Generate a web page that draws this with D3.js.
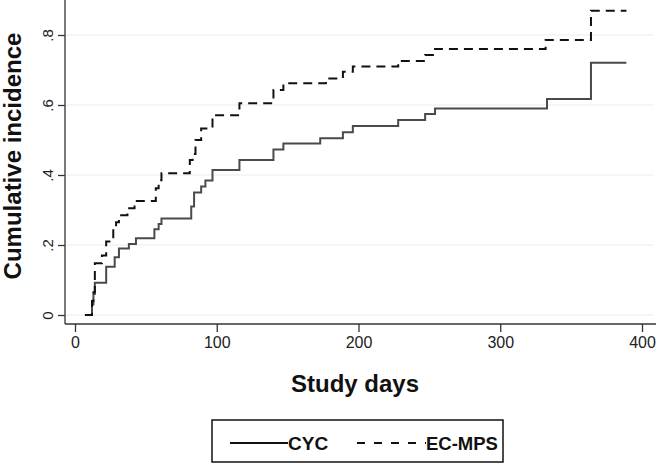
<!DOCTYPE html>
<html>
<head>
<meta charset="utf-8">
<script src="https://cdn.jsdelivr.net/npm/d3@7"></script>
<style>
  html, body { margin: 0; padding: 0; background: #fff; }
  svg { display: block; }
  text { font-family: "Liberation Sans", Arial, sans-serif; }
</style>
</head>
<body>
<svg id="chart" width="658" height="465"></svg>
<script>
// ---- data ----
const xTicks = [0, 100, 200, 300, 400];
const yTicks = [0, 0.2, 0.4, 0.6, 0.8];
const yTickLabels = ["0", ".2", ".4", ".6", ".8"];
const seriesNames = ["CYC", "EC-MPS"];

const cycDays = [7, 12, 13, 14, 22, 28, 31, 38, 43, 56, 59, 61, 82, 84, 89, 92, 97, 116, 140, 147, 173, 189, 196, 228, 247, 254, 333, 364, 389];
const cycVals = [0, 0.03, 0.06, 0.092, 0.138, 0.165, 0.19, 0.203, 0.219, 0.245, 0.26, 0.276, 0.31, 0.35, 0.367, 0.384, 0.414, 0.443, 0.473, 0.49, 0.505, 0.522, 0.54, 0.557, 0.574, 0.59, 0.617, 0.721, 0.721];

const ecDays = [7, 12, 13, 14, 19, 22, 27, 29, 31, 37, 42, 57, 59, 61, 81, 83, 85, 89, 97, 116, 140, 147, 177, 189, 196, 228, 247, 254, 332, 364, 389];
const ecVals = [0, 0.04, 0.065, 0.148, 0.17, 0.21, 0.245, 0.265, 0.285, 0.305, 0.326, 0.362, 0.385, 0.405, 0.443, 0.46, 0.50, 0.533, 0.571, 0.605, 0.643, 0.662, 0.676, 0.695, 0.71, 0.726, 0.743, 0.76, 0.786, 0.869, 0.869];

// ---- layout ----
const svg = d3.select("#chart");
const x = d3.scaleLinear().domain([0, 400]).range([75, 642]);
const y = d3.scaleLinear().domain([0, 0.8]).range([315, 35]);
const plotLeft = 65, plotRight = 656, plotTop = 0, plotBottom = 324;

// gridlines
svg.append("g").selectAll("line").data(yTicks).join("line")
  .attr("x1", plotLeft + 1).attr("x2", 653)
  .attr("y1", d => y(d)).attr("y2", d => y(d))
  .attr("stroke", "#ececec").attr("stroke-width", 1.2);

// axes lines
svg.append("line").attr("x1", plotLeft).attr("x2", plotLeft)
  .attr("y1", plotTop).attr("y2", plotBottom)
  .attr("stroke", "#333").attr("stroke-width", 1.3);
svg.append("line").attr("x1", plotLeft).attr("x2", plotRight)
  .attr("y1", plotBottom).attr("y2", plotBottom)
  .attr("stroke", "#333").attr("stroke-width", 1.3);

// x axis
const xAxis = d3.axisBottom(x).tickValues(xTicks).tickSize(8).tickPadding(5).tickFormat(d3.format("d"));
const gx = svg.append("g").attr("transform", `translate(0,${plotBottom})`).call(xAxis);
gx.select(".domain").remove();
gx.selectAll(".tick line").attr("stroke", "#333").attr("stroke-width", 1.3);
gx.selectAll(".tick text").attr("font-size", 16).attr("fill", "#222")
  .style("font-family", '"Liberation Sans", Arial, sans-serif');

// y axis
const yAxis = d3.axisLeft(y).tickValues(yTicks).tickSize(7).tickFormat((d, i) => yTickLabels[i]);
const gy = svg.append("g").attr("transform", `translate(${plotLeft},0)`).call(yAxis);
gy.select(".domain").remove();
gy.selectAll(".tick line").attr("stroke", "#333").attr("stroke-width", 1.3);
gy.selectAll(".tick text")
  .attr("x", null).attr("dy", null)
  .attr("transform", "translate(-12,0) rotate(-90)")
  .attr("text-anchor", "middle")
  .attr("font-size", 15).attr("fill", "#222")
  .style("font-family", '"Liberation Sans", Arial, sans-serif');

// curves
const line = d3.line().x(d => x(d[0])).y(d => y(d[1])).curve(d3.curveStepAfter);
const cycPts = cycDays.map((d, i) => [d, cycVals[i]]);
const ecPts = ecDays.map((d, i) => [d, ecVals[i]]);

svg.append("path").datum(cycPts).attr("d", line)
  .attr("fill", "none").attr("stroke", "#4a4a4a").attr("stroke-width", 2);
svg.append("path").datum(ecPts).attr("d", line)
  .attr("fill", "none").attr("stroke", "#111").attr("stroke-width", 2)
  .attr("stroke-dasharray", "9,6");

// axis titles
svg.append("text").attr("x", 355).attr("y", 392)
  .attr("text-anchor", "middle").attr("font-size", 24).attr("font-weight", "bold")
  .attr("fill", "#111").text("Study days");
svg.append("text").attr("transform", "translate(21,156) rotate(-90)")
  .attr("text-anchor", "middle").attr("font-size", 24).attr("font-weight", "bold")
  .attr("fill", "#111").text("Cumulative incidence");

// legend
const lg = svg.append("g");
lg.append("rect").attr("x", 212).attr("y", 420).attr("width", 291).attr("height", 42)
  .attr("fill", "#fff").attr("stroke", "#111").attr("stroke-width", 1.5);
lg.append("line").attr("x1", 230).attr("x2", 288).attr("y1", 443).attr("y2", 443)
  .attr("stroke", "#111").attr("stroke-width", 2);
lg.append("text").attr("x", 288).attr("y", 450).attr("font-size", 19).attr("font-weight", "bold")
  .attr("fill", "#111").text(seriesNames[0]);
lg.append("line").attr("x1", 357).attr("x2", 426).attr("y1", 443).attr("y2", 443)
  .attr("stroke", "#111").attr("stroke-width", 2).attr("stroke-dasharray", "8,9");
lg.append("text").attr("x", 426).attr("y", 450).attr("font-size", 18.5).attr("font-weight", "bold")
  .attr("fill", "#111").text(seriesNames[1]);
</script>
</body>
</html>
